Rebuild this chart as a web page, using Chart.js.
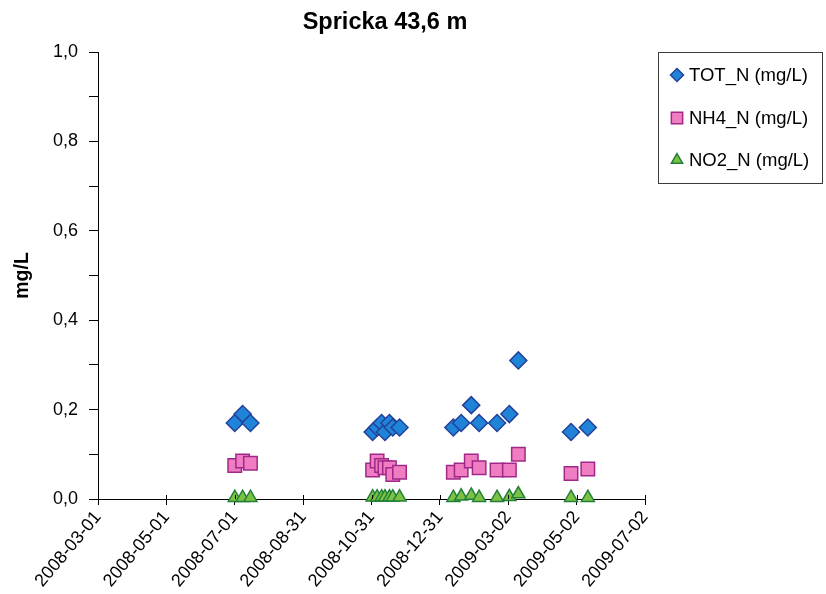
<!DOCTYPE html>
<html>
<head>
<meta charset="utf-8">
<script src="https://cdn.jsdelivr.net/npm/chart.js@4.4.1/dist/chart.umd.min.js"></script>
<style>
  html, body { margin: 0; padding: 0; background: #ffffff; }
  #wrap { width: 826px; height: 594px; position: relative; }
</style>
</head>
<body>
<div id="wrap"><canvas id="chart" width="826" height="594"></canvas></div>
<script>
// Sampling dates and measured concentrations (mg/L)
const sampleDates = [
  '2008-07-01', '2008-07-08', '2008-07-15',
  '2008-11-01', '2008-11-05', '2008-11-09', '2008-11-12', '2008-11-16', '2008-11-19', '2008-11-25',
  '2009-01-12', '2009-01-19', '2009-01-28', '2009-02-04', '2009-02-20', '2009-03-03', '2009-03-11',
  '2009-04-27', '2009-05-12'
];
const totN = [
  0.17, 0.19, 0.17,
  0.15, 0.16, 0.17, 0.15, 0.17, 0.16, 0.16,
  0.16, 0.17, 0.21, 0.17, 0.17, 0.19, 0.31,
  0.15, 0.16
];
const nh4N = [
  0.075, 0.085, 0.08,
  0.065, 0.085, 0.075, 0.07, 0.07, 0.055, 0.06,
  0.06, 0.065, 0.085, 0.07, 0.065, 0.065, 0.10,
  0.057, 0.067
];
const no2N = [
  0.003, 0.003, 0.003,
  0.004, 0.004, 0.004, 0.004, 0.004, 0.004, 0.004,
  0.003, 0.006, 0.008, 0.003, 0.003, 0.005, 0.011,
  0.003, 0.003
];
const seriesNames = ['TOT_N (mg/L)', 'NH4_N (mg/L)', 'NO2_N (mg/L)'];
const xTickDates = [
  '2008-03-01', '2008-05-01', '2008-07-01', '2008-08-31', '2008-10-31',
  '2008-12-31', '2009-03-02', '2009-05-02', '2009-07-02'
];
const yTickValues = [0, 0.1, 0.2, 0.3, 0.4, 0.5, 0.6, 0.7, 0.8, 0.9, 1.0];

const DAY = 86400000;
const origin = Date.UTC(2008, 2, 1);
function toDay(s) {
  const [y, m, d] = s.split('-').map(Number);
  return Math.round((Date.UTC(y, m - 1, d) - origin) / DAY);
}
function fromDay(n) {
  return new Date(origin + n * DAY).toISOString().slice(0, 10);
}
function points(values) {
  return sampleDates.map((d, i) => ({ x: toDay(d), y: values[i] }));
}

const FONT = "'Liberation Sans', Arial, sans-serif";

const markerStyles = [
  { pointStyle: 'rectRot', radius: 8.5, fill: '#1f84d8', stroke: '#24419a', legendRadius: 6.5 },
  { pointStyle: 'rect', radius: 9.5, fill: '#f07cc2', stroke: '#a12888', legendRadius: 8 },
  { pointStyle: 'triangle', radius: 7.5, fill: '#7cc242', stroke: '#22803a', legendRadius: 6.5 }
];
const seriesValues = [totN, nh4N, no2N];

// Draw the boxed legend on the right side of the plot
const boxLegend = {
  id: 'boxLegend',
  afterDraw(chart) {
    const ctx = chart.ctx;
    ctx.save();
    ctx.strokeStyle = '#3a3a3a';
    ctx.lineWidth = 1;
    ctx.strokeRect(658.5, 52.5, 164, 131);
    const rowsY = [75, 118, 160];
    ctx.font = '18.5px ' + FONT;
    ctx.textBaseline = 'middle';
    ctx.textAlign = 'left';
    seriesNames.forEach((name, i) => {
      const st = markerStyles[i];
      ctx.fillStyle = st.fill;
      ctx.strokeStyle = st.stroke;
      ctx.lineWidth = 1.5;
      Chart.helpers.drawPoint(ctx, {
        pointStyle: st.pointStyle, radius: st.legendRadius, rotation: 0, borderWidth: 1.5
      }, 677, rowsY[i]);
      ctx.fillStyle = '#000';
      ctx.fillText(name, 689, rowsY[i] + 1);
    });
    ctx.restore();
  }
};

// Excel-style x ticks that cross the axis line
const crossTicks = {
  id: 'crossTicks',
  afterDraw(chart) {
    const xs = chart.scales.x;
    const ctx = chart.ctx;
    ctx.save();
    ctx.strokeStyle = '#000';
    ctx.lineWidth = 1;
    ctx.beginPath();
    xs.ticks.forEach(t => {
      const px = Math.round(xs.getPixelForValue(t.value)) + 0.5;
      ctx.moveTo(px, xs.top - 4);
      ctx.lineTo(px, xs.top);
    });
    ctx.stroke();
    ctx.restore();
  }
};

new Chart(document.getElementById('chart'), {
  type: 'scatter',
  data: {
    datasets: seriesNames.map((name, i) => ({
      label: name,
      data: points(seriesValues[i]),
      pointStyle: markerStyles[i].pointStyle,
      pointRadius: markerStyles[i].radius,
      pointHoverRadius: markerStyles[i].radius,
      backgroundColor: markerStyles[i].fill,
      borderColor: markerStyles[i].stroke,
      borderWidth: 1.5,
      clip: false
    }))
  },
  options: {
    responsive: false,
    animation: false,
    devicePixelRatio: 1,
    layout: { padding: { left: 0, right: 56, top: 0, bottom: 0 } },
    plugins: {
      legend: { display: false },
      tooltip: { enabled: false },
      title: {
        display: true,
        text: 'Spricka 43,6 m',
        color: '#000',
        font: { family: FONT, size: 23.5, weight: 'bold', lineHeight: 1.2 },
        padding: { top: 8, bottom: 15.8 }
      }
    },
    scales: {
      x: {
        type: 'linear',
        min: toDay(xTickDates[0]),
        max: toDay(xTickDates[xTickDates.length - 1]),
        afterBuildTicks(scale) {
          scale.ticks = xTickDates.map(d => ({ value: toDay(d) }));
        },
        afterFit(scale) { scale.height = 95; },
        border: { display: true, color: '#000', width: 1 },
        grid: { display: true, drawOnChartArea: false, drawTicks: true, tickLength: 6, color: '#000' },
        ticks: {
          color: '#000',
          font: { family: FONT, size: 18 },
          minRotation: 50,
          maxRotation: 50,
          padding: 2,
          autoSkip: false,
          callback: v => fromDay(v)
        }
      },
      y: {
        min: 0,
        max: 1,
        afterBuildTicks(scale) {
          scale.ticks = yTickValues.map(v => ({ value: v }));
        },
        afterFit(scale) { scale.width = 98; },
        border: { display: true, color: '#000', width: 1 },
        grid: { display: true, drawOnChartArea: false, drawTicks: true, tickLength: 9, color: '#000' },
        title: {
          display: true,
          text: 'mg/L',
          color: '#000',
          font: { family: FONT, size: 19.5, weight: 'bold', lineHeight: 1.2 },
          padding: { top: 10.5, bottom: 0 }
        },
        ticks: {
          color: '#000',
          font: { family: FONT, size: 18 },
          padding: 11,
          autoSkip: false,
          callback: (v, i) => (i % 2 === 0 ? v.toFixed(1).replace('.', ',') : '')
        }
      },
      // empty right-hand gutter that holds the legend box
      gutter: {
        position: 'right',
        display: true,
        min: 0,
        max: 1,
        afterFit(scale) { scale.width = 125; },
        border: { display: false },
        grid: { display: false, drawTicks: false },
        ticks: { display: false }
      }
    }
  },
  plugins: [boxLegend, crossTicks]
});
</script>
</body>
</html>
